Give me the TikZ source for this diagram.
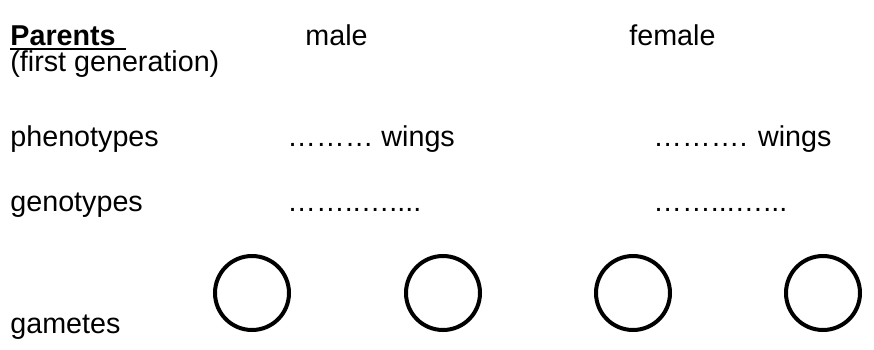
\documentclass[tikz,border=0pt]{standalone}
\usepackage{fontspec}
\setmainfont{Liberation Sans}
\usetikzlibrary{positioning}

\tikzset{
    lbl/.style={anchor=base west, inner sep=0pt, font=\fontsize{14.35}{17}\selectfont},
    gamete/.style={draw, circle, line width=2pt, minimum size=37pt, inner sep=0pt}
}

\begin{document}
\begin{tikzpicture}[x=0.5pt, y=-0.5pt]
        \useasboundingbox (0,0) rectangle (874,349);

        % row labels
        \node[lbl] (parents) at (10,45)  {\textbf{Parents}};
        \node[lbl] (gen)     at (10,71)  {(first generation)};
        \node[lbl] (pheno)   at (10,146) {phenotypes};
        \node[lbl] (geno)    at (10,211) {genotypes};
        \node[lbl] (gam)     at (10,333) {gametes};
        \draw[line width=1pt] ([yshift=-2.2pt]parents.base west) -- ([xshift=5pt,yshift=-2.2pt]parents.base east);

        % male / female columns
        \node[lbl] (male)   at (305,45)  {male};
        \node[lbl] (female) at (629,45)  {female};
        \node[lbl] (mpheno) at (287,146) {……… wings};
        \node[lbl] (fpheno) at (653,146) {………. wings};
        \node[lbl] (mgeno)  at (287,211) {……..…....};
        \node[lbl] (fgeno)  at (653,211) {……...…...};

        \foreach \i/\x in {1/252,2/443,3/633,4/823}
            \node[gamete] (g\i) at (\x,293) {};
\end{tikzpicture}
\end{document}
